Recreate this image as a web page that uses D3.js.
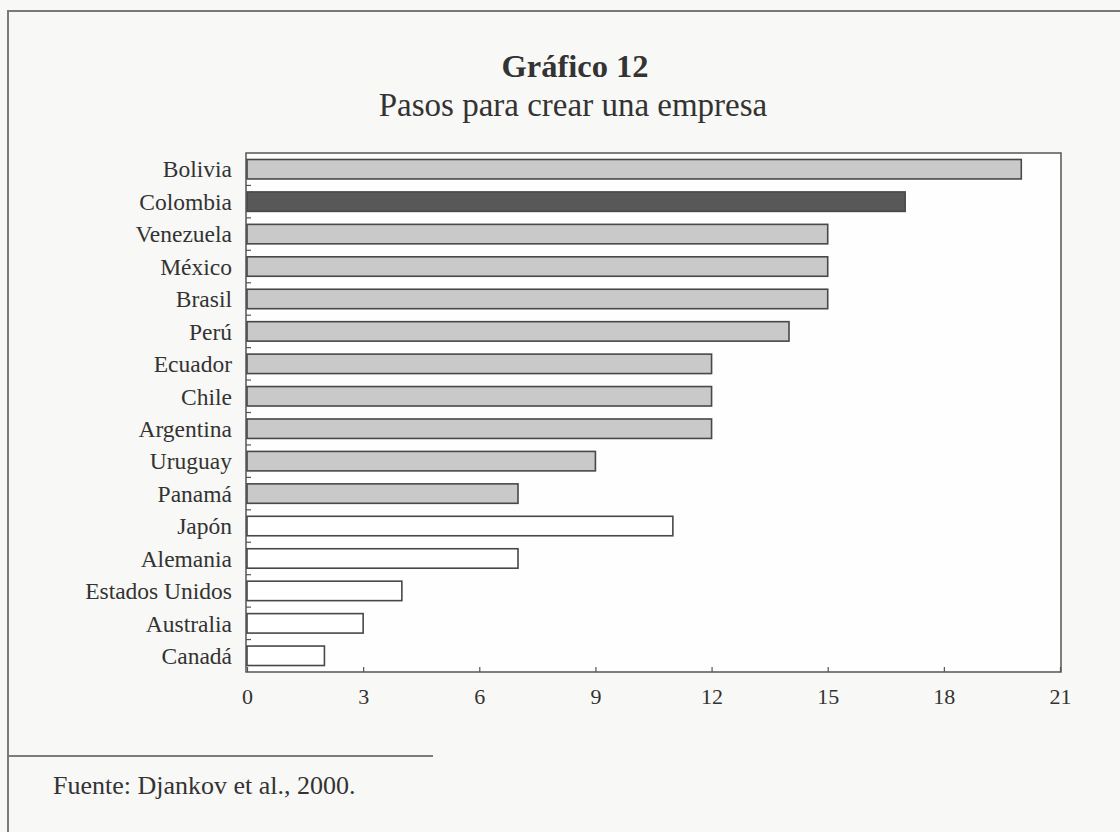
<!DOCTYPE html>
<html>
<head>
<meta charset="utf-8">
<script src="https://cdn.jsdelivr.net/npm/d3@7"></script>
<style>
  html, body { margin: 0; padding: 0; background: #f8f8f6; }
  svg { display: block; }
  text { font-family: "Liberation Serif", "Times New Roman", serif; fill: #333; }
</style>
</head>
<body>
<svg id="chart" width="1120" height="832"></svg>
<script>
// Pasos para crear una empresa (número de trámites por país)
const countries = ["Bolivia", "Colombia", "Venezuela", "México", "Brasil", "Perú", "Ecuador", "Chile",
  "Argentina", "Uruguay", "Panamá", "Japón", "Alemania", "Estados Unidos", "Australia", "Canadá"];
const steps = [20, 17, 15, 15, 15, 14, 12, 12, 12, 9, 7, 11, 7, 4, 3, 2];
// grupo: "la" = América Latina, "col" = Colombia, "ref" = países de referencia
const groups = ["la", "col", "la", "la", "la", "la", "la", "la", "la", "la", "la", "ref", "ref", "ref", "ref", "ref"];
const xTicks = [0, 3, 6, 9, 12, 15, 18, 21];
const titleText = "Gráfico 12";
const subtitleText = "Pasos para crear una empresa";
const sourceText = "Fuente: Djankov et al., 2000.";

const fillByGroup = { la: "#c9c9c9", col: "#585858", ref: "#ffffff" };

const svg = d3.select("#chart");
const plot = { left: 246, top: 153, right: 1061, bottom: 672 };

// outer frame of the figure
svg.append("path")
  .attr("d", "M8,840 L8,11 L1130,11")
  .attr("fill", "none")
  .attr("stroke", "#7a7a7a")
  .attr("stroke-width", 2);

// titles
svg.append("text")
  .attr("x", 575).attr("y", 77)
  .attr("text-anchor", "middle")
  .style("font-size", "32.5px").style("font-weight", "bold")
  .text(titleText);
svg.append("text")
  .attr("x", 573).attr("y", 116)
  .attr("text-anchor", "middle")
  .style("font-size", "33px")
  .text(subtitleText);

const x = d3.scaleLinear().domain([0, 21]).range([plot.left + 1, plot.right - 1]);
const y = d3.scaleBand().domain(countries).range([plot.top, plot.bottom])
  .paddingInner(0.4).paddingOuter(0.2);

// plot area
svg.append("rect")
  .attr("x", plot.left).attr("y", plot.top)
  .attr("width", plot.right - plot.left).attr("height", plot.bottom - plot.top)
  .attr("fill", "#fefefe")
  .attr("stroke", "#555").attr("stroke-width", 1.5);

// bars
svg.append("g").selectAll("rect")
  .data(countries)
  .join("rect")
  .attr("x", x(0))
  .attr("y", d => y(d))
  .attr("width", (d, i) => x(steps[i]) - x(0))
  .attr("height", y.bandwidth())
  .attr("fill", (d, i) => fillByGroup[groups[i]])
  .attr("stroke", "#484848")
  .attr("stroke-width", 1.6);

// left axis: category labels and inward ticks at band boundaries
const step = y.step();
const boundaries = d3.range(1, countries.length).map(k => plot.top + k * step);
svg.append("g").selectAll("line")
  .data(boundaries)
  .join("line")
  .attr("x1", plot.left).attr("x2", plot.left + 5)
  .attr("y1", d => d).attr("y2", d => d)
  .attr("stroke", "#555").attr("stroke-width", 1.2);

svg.append("g").selectAll("text")
  .data(countries)
  .join("text")
  .attr("x", 232)
  .attr("y", d => y(d) + y.bandwidth() / 2)
  .attr("dy", "0.35em")
  .attr("text-anchor", "end")
  .style("font-size", "23.5px")
  .text(d => d);

// bottom axis
const xAxis = d3.axisBottom(x).tickValues(xTicks).tickSize(-5).tickPadding(16).tickFormat(d3.format("d"));
const gx = svg.append("g")
  .attr("transform", `translate(0,${plot.bottom})`)
  .call(xAxis);
gx.select(".domain").remove();
gx.selectAll(".tick line").attr("stroke", "#555").attr("stroke-width", 1.2);
gx.selectAll(".tick text")
  .style("font-size", "22px")
  .style("font-family", "'Liberation Serif', serif")
  .attr("fill", "#333");

// source note
svg.append("line")
  .attr("x1", 9).attr("x2", 433)
  .attr("y1", 756).attr("y2", 756)
  .attr("stroke", "#555").attr("stroke-width", 1.5);
svg.append("text")
  .attr("x", 53).attr("y", 794)
  .style("font-size", "26px")
  .text(sourceText);
</script>
</body>
</html>
